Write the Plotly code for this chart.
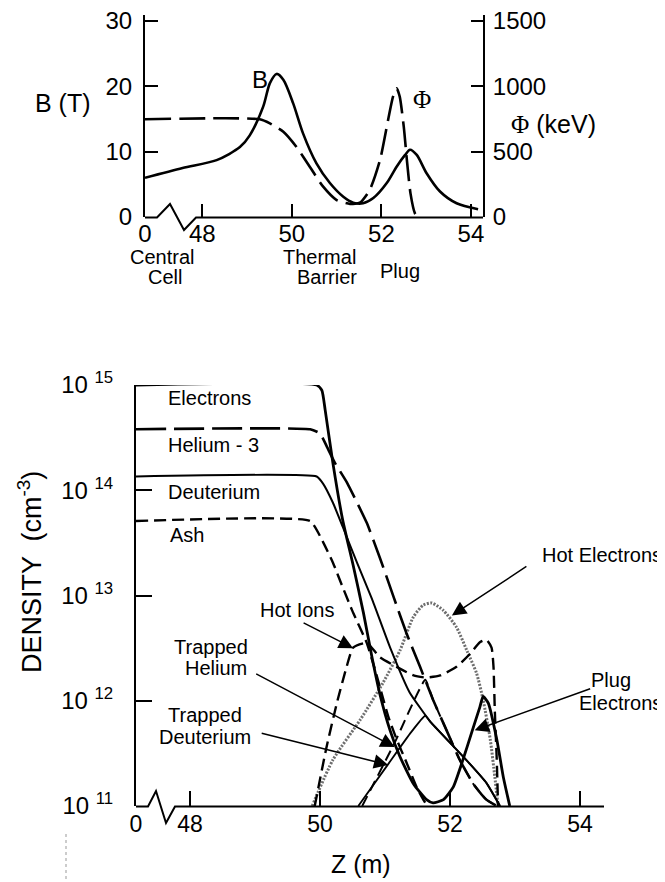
import plotly.graph_objects as go

# The page body has an 8 px default margin: the figure is sized so that it fills the
# 665 x 882 window exactly; all positions below are given in window pixels.
OFF = 8
W, H = 665 - OFF, 882 - OFF
FONT = "Liberation Sans, Arial, Helvetica, sans-serif"
SERIF = "Liberation Serif, Times New Roman, serif"


def px(x):
    return (x - OFF) / W


def py(y):
    return 1 - (y - OFF) / H


# ---------------- top panel data: B (T) and potential (keV) vs Z (m) ----------------
top_z_left = 46.72          # axis position standing for Z = 0 (broken axis)
top_xtick_vals = [top_z_left, 48, 50, 52, 54]
top_xtick_text = ["0", "48", "50", "52", "54"]
b_ticks = [0, 10, 20, 30]
phi_ticks = [0, 500, 1000, 1500]

z_b = [46.72, 47.56, 48.32, 48.84, 49.06, 49.36, 49.51, 49.66, 49.81, 50.03, 50.25,
       50.55, 50.85, 51.15, 51.37, 51.59, 51.82, 52.12, 52.34, 52.53, 52.64, 52.79,
       53.01, 53.31, 53.68, 54.16]
b_tesla = [6.0, 7.5, 8.7, 10.7, 12.5, 16.9, 20.5, 21.9, 21.0, 17.4, 12.8,
           8.2, 5.2, 3.1, 2.2, 2.1, 2.9, 5.2, 7.7, 9.5, 10.3, 9.5,
           6.7, 3.9, 2.1, 1.2]

z_phi = [46.72, 49.28, 49.51, 49.81, 50.10, 50.40, 50.70, 51.00, 51.30, 51.52, 51.74,
         51.97, 52.15, 52.26, 52.34, 52.41, 52.50, 52.57, 52.65, 52.75, 52.82]
phi_kev = [748, 748, 717, 653, 538, 385, 232, 130, 100, 110, 207,
           436, 743, 921, 985, 921, 691, 436, 181, 28, 0]

# ---------------- bottom panel data: density (cm^-3) vs Z (m) ----------------
bot_z_left = 47.17
bot_xtick_vals = [bot_z_left, 48, 50, 52, 54]
bot_xtick_text = ["0", "48", "50", "52", "54"]
dens_ticks = [1e11, 1e12, 1e13, 1e14, 1e15]
dens_tick_text = ["10 <sup>11</sup>", "10 <sup>12</sup>", "10 <sup>13</sup>",
                  "10 <sup>14</sup>", "10 <sup>15</sup>"]

z_electrons = [47.17, 49.95, 50.03, 50.08, 50.20, 50.35, 50.51, 50.67, 50.80, 50.92,
               51.08, 51.23, 51.44, 51.64, 51.74, 51.90, 52.05, 52.20, 52.33, 52.46,
               52.51, 52.59, 52.72, 52.82, 52.92]
n_electrons = [1.0e15, 1.0e15, 8.9e14, 5.8e14, 1.8e14, 5.2e13, 1.95e13, 6.8e12, 2.6e12, 1.17e12,
               5.2e11, 2.95e11, 1.62e11, 1.15e11, 1.07e11, 1.15e11, 1.51e11, 2.75e11, 4.9e11, 8.7e11,
               1.1e12, 9.5e11, 4.3e11, 1.9e11, 1.0e11]

z_helium3 = [47.17, 49.85, 50.00, 50.11, 50.23, 50.42, 50.72, 50.92, 51.13, 51.33,
             51.54, 51.74, 51.95, 52.15, 52.36, 52.56, 52.72]
n_helium3 = [3.8e14, 3.8e14, 3.47e14, 2.57e14, 1.82e14, 1.17e14, 4.9e13, 2.3e13, 9.8e12, 4.4e12,
             2.1e12, 1.02e12, 5.2e11, 2.75e11, 1.62e11, 1.15e11, 1.0e11]

z_deuterium = [47.17, 49.95, 50.05, 50.20, 50.35, 50.57, 50.80, 51.08, 51.38, 51.70,
               52.00, 52.31, 52.56, 52.77]
n_deuterium = [1.35e14, 1.35e14, 1.15e14, 7.6e13, 4.5e13, 2.05e13, 9.3e12, 3.2e12, 1.2e12, 6.3e11,
               4.0e11, 2.5e11, 1.66e11, 1.0e11]

z_ash = [47.17, 49.85, 50.05, 50.20, 50.35, 50.50, 50.72, 50.85, 50.95, 51.05,
         51.18, 51.33, 51.49, 51.59, 51.65]
n_ash = [5.1e13, 5.1e13, 3.2e13, 2.05e13, 1.2e13, 7.1e12, 3.55e12, 1.95e12, 1.17e12, 7.1e11,
         4.3e11, 2.6e11, 1.5e11, 1.15e11, 1.0e11]

z_hot_ions = [49.92, 50.10, 50.26, 50.41, 50.51, 50.72, 50.92, 51.18, 51.44, 51.64,
              51.85, 52.10, 52.31, 52.46, 52.56, 52.64, 52.67, 52.69, 52.72, 52.74]
n_hot_ions = [1.0e11, 3.6e11, 9.5e11, 2.1e12, 3.2e12, 3.55e12, 2.6e12, 2.1e12, 1.74e12, 1.66e12,
              1.74e12, 2.1e12, 2.8e12, 3.6e12, 3.8e12, 3.2e12, 2.1e12, 8.1e11, 2.75e11, 1.0e11]

z_hot_electrons = [49.88, 50.20, 50.62, 50.97, 51.23, 51.44, 51.59, 51.72, 51.90, 52.10,
                   52.26, 52.41, 52.51, 52.62, 52.69, 52.74]
n_hot_electrons = [1.0e11, 2.75e11, 6.6e11, 1.48e12, 3.0e12, 6.3e12, 8.1e12, 8.5e12, 7.2e12, 5.0e12,
                   3.0e12, 1.82e12, 1.02e12, 4.3e11, 1.9e11, 1.0e11]

z_trapped_he = [50.65, 51.15, 51.62, 51.74, 51.95, 52.15, 52.36, 52.56, 52.72]
n_trapped_he = [1.0e11, 4.0e11, 1.58e12, 1.02e12, 5.2e11, 2.75e11, 1.62e11, 1.15e11, 1.0e11]

z_trapped_d = [50.59, 51.05, 51.40, 51.62, 51.70, 52.00, 52.31, 52.56, 52.77]
n_trapped_d = [1.0e11, 2.5e11, 5.0e11, 7.2e11, 6.3e11, 4.0e11, 2.5e11, 1.66e11, 1.0e11]

fig = go.Figure()


def line(x, y, xa, ya, width=2.5, dash="solid", color="black", shape="linear", smoothing=0):
    ln = dict(color=color, width=width, dash=dash, shape=shape)
    if shape == "spline":
        ln["smoothing"] = smoothing
    fig.add_trace(go.Scatter(x=x, y=y, mode="lines", line=ln, xaxis=xa, yaxis=ya,
                             showlegend=False, hoverinfo="skip"))


# top panel
line(z_b, b_tesla, "x", "y", width=2.6, shape="spline", smoothing=0.8)
line(z_phi, phi_kev, "x", "y2", width=2.6, dash="26px,8px", shape="spline", smoothing=0.6)

# bottom panel
line(z_hot_electrons, n_hot_electrons, "x3", "y3", width=3, dash="2px,1.5px", color="#6e6e6e",
     shape="spline", smoothing=0.6)
line(z_trapped_d, n_trapped_d, "x3", "y3", width=1.8, shape="spline", smoothing=0.4)
line(z_trapped_he, n_trapped_he, "x3", "y3", width=2.0, dash="11px,6px", shape="spline", smoothing=0.4)
line(z_ash, n_ash, "x3", "y3", width=2.4, dash="12px,6px", shape="spline", smoothing=0.4)
line(z_hot_ions, n_hot_ions, "x3", "y3", width=2.4, dash="12px,6px", shape="spline", smoothing=0.5)
line(z_deuterium, n_deuterium, "x3", "y3", width=2.0, shape="spline", smoothing=0.4)
line(z_helium3, n_helium3, "x3", "y3", width=2.6, dash="30px,8px", shape="spline", smoothing=0.4)
line(z_electrons, n_electrons, "x3", "y3", width=2.8, shape="spline", smoothing=0.5)

tick_common = dict(ticks="inside", tickwidth=2, tickcolor="black", showgrid=False,
                   zeroline=False, automargin=False, ticklabeloverflow="allow")
axis_line = dict(linecolor="black", linewidth=2, showline=True)

fig.update_layout(
    width=W, height=H, autosize=False,
    margin=dict(l=0, r=0, t=0, b=0, pad=0, autoexpand=False),
    paper_bgcolor="white", plot_bgcolor="rgba(0,0,0,0)",
    font=dict(family=FONT, color="black"),
    showlegend=False,
    xaxis=dict(domain=[px(145), px(483)], range=[top_z_left, 54.27], anchor="y",
               tickmode="array", tickvals=top_xtick_vals, ticktext=top_xtick_text,
               ticklen=13, showline=False, tickfont=dict(size=24), ticklabelstandoff=0,
               **tick_common),
    yaxis=dict(domain=[py(217), py(15)], range=[0, 30.92], anchor="x",
               tickmode="array", tickvals=b_ticks, ticklen=13,
               tickfont=dict(size=24), ticklabelstandoff=6, **tick_common, **axis_line),
    yaxis2=dict(domain=[py(217), py(15)], range=[0, 1546], anchor="x", overlaying="y",
                side="right", tickmode="array", tickvals=phi_ticks, ticklen=12,
                tickfont=dict(size=24), ticklabelstandoff=3, **tick_common, **axis_line),
    xaxis3=dict(domain=[px(136), px(604)], range=[bot_z_left, 54.37], anchor="y3",
                tickmode="array", tickvals=bot_xtick_vals, ticktext=bot_xtick_text,
                ticklen=15, showline=False, tickfont=dict(size=23), ticklabelstandoff=2,
                **tick_common),
    yaxis3=dict(domain=[py(806), py(385)], type="log", range=[11, 15], anchor="x3",
                tickmode="array", tickvals=dens_ticks, ticktext=dens_tick_text,
                ticklen=16, tickfont=dict(size=24), ticklabelstandoff=16,
                **tick_common, **axis_line),
)


def pth(points):
    return "M " + " L ".join(f"{px(x):.5f},{py(y):.5f}" for x, y in points)


shapes = [
    dict(type="path", xref="paper", yref="paper",
         path=pth([(145, 217.5), (157, 217.5), (170, 204), (184, 230), (196, 217.5), (483, 217.5)]),
         line=dict(color="black", width=2)),
    dict(type="path", xref="paper", yref="paper",
         path=pth([(136, 806.5), (148, 806.5), (156, 791), (166, 823), (175, 806.5), (604, 806.5)]),
         line=dict(color="black", width=2)),
    dict(type="line", xref="paper", yref="paper", x0=px(66), x1=px(66), y0=py(834), y1=py(880),
         line=dict(color="#999999", width=1, dash="dot")),
]
fig.update_layout(shapes=shapes)

ann = []


def text(t, x, y, size=20, xanchor="center", family=FONT, angle=0):
    ann.append(dict(text=t, x=px(x), y=py(y), xref="paper", yref="paper", showarrow=False,
                    xanchor=xanchor, yanchor="middle", textangle=angle,
                    font=dict(size=size, family=family, color="black")))


# top labels
text("B (T)", 63, 103, size=25)
text('<span style="font-family:Liberation Serif">Φ</span> (keV)', 553, 124, size=25)
text("B", 260, 80, size=24)
text("Φ", 422, 99, size=25, family=SERIF)
text("Central", 162, 257)
text("Cell", 165, 277)
text("Thermal", 319, 257)
text("Barrier", 327, 277)
text("Plug", 400, 271)

# bottom labels
text("Electrons", 166, 398, xanchor="left")
text("Helium - 3", 166, 445, xanchor="left")
text("Deuterium", 166, 492, xanchor="left")
text("Ash", 168, 535, xanchor="left")
text("Hot Electrons", 664, 555, xanchor="right")
text("Hot Ions", 297, 610)
text("Trapped", 211, 647)
text("Helium", 216, 668)
text("Trapped", 205, 715)
text("Deuterium", 205, 737)
text("Plug", 611, 680)
text("Electrons", 664, 703, xanchor="right")
text("DENSITY  (cm<sup>-3</sup>)", 30, 572, size=27, angle=-90)
text("Z (m)", 361, 864, size=25)


def arrow(z, n_log, ax, ay):
    ann.append(dict(text="", x=z, y=n_log, xref="x3", yref="y3", showarrow=True,
                    ax=ax, ay=ay, axref="pixel", ayref="pixel", arrowhead=2,
                    arrowsize=1.9, arrowwidth=1.5, arrowcolor="black", standoff=0))


arrow(52.03, 12.81, 76, -50)     # hot electrons
arrow(50.51, 12.50, -51, -26)    # hot ions
arrow(51.15, 11.56, -140, -74)   # trapped helium
arrow(51.05, 11.39, -128, -32)   # trapped deuterium
arrow(52.38, 11.72, 117, -42)    # plug electrons

fig.update_layout(annotations=ann)
fig.write_html("out.html")
